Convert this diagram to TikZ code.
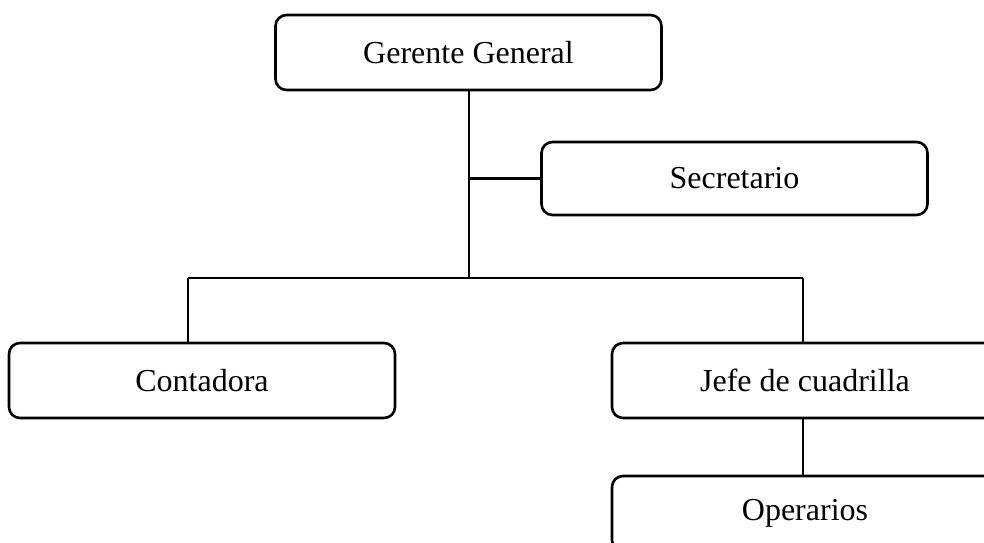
\documentclass[tikz,border=0pt]{standalone}
\usepackage{fontspec}
\setmainfont{Liberation Serif}
\begin{document}
\begin{tikzpicture}[x=1pt,y=-1pt,
  box/.style={draw, line width=2.6pt, rounded corners=11pt, minimum width=386pt, minimum height=75pt, inner sep=0pt, font=\fontsize{32}{38}\selectfont},
  conn/.style={line width=2.6pt}]
\useasboundingbox (0,0) rectangle (984,542);
\clip (0,0) rectangle (984,542);
\node[box] (ger) at (468.5,52.5) {Gerente General};
\node[box, minimum height=73pt] (sec) at (734.5,178.5) {Secretario};
\node[box] (con) at (202,380.5) {Contadora};
\node[box] (jefe) at (805,380.5) {Jefe de cuadrilla};
\node[box] (ope) at (805,513.5) {Operarios};
\coordinate (bus) at (469,278);
\coordinate (bl) at (188,278);
\coordinate (br) at (803,278);
\draw[conn] (ger.south -| bus) -- (bus);
\draw[conn] (bus |- sec.west) -- (sec.west);
\draw[conn] (bl) -- (br);
\draw[conn] (bl) -- (bl |- con.north);
\draw[conn] (br) -- (br |- jefe.north);
\draw[conn] (jefe.south -| br) -- (ope.north -| br);
\end{tikzpicture}
\end{document}
